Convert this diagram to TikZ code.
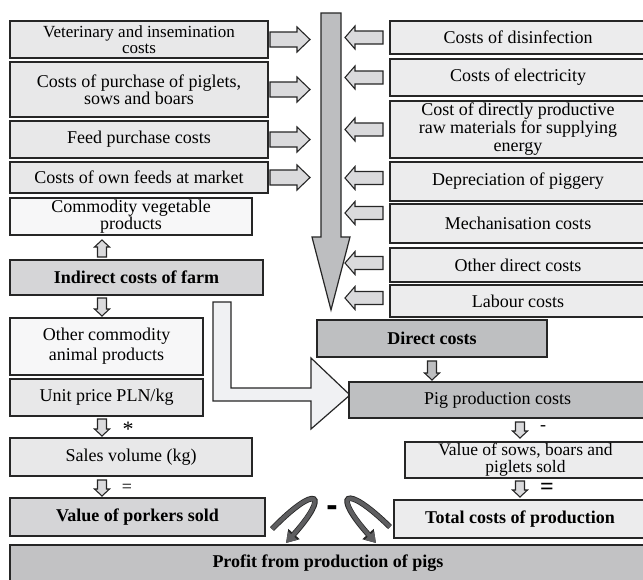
\documentclass[tikz,border=0pt]{standalone}
\usepackage{fontspec}
\setmainfont{Liberation Serif}
\setsansfont{Liberation Sans}
\usetikzlibrary{arrows.meta}
\definecolor{boxA}{HTML}{E8E8E9}
\definecolor{boxR}{HTML}{ECECED}
\definecolor{boxW}{HTML}{F7F7F8}
\definecolor{boxM}{HTML}{D5D5D7}
\definecolor{boxD}{HTML}{BEBFC1}
\definecolor{boxP}{HTML}{C2C2C4}
\definecolor{arrF}{HTML}{DADADC}
\definecolor{bigF}{HTML}{BDBEC0}
\definecolor{lF}{HTML}{F0F1F3}
\definecolor{curv}{HTML}{5E5E60}
\tikzset{
  box/.style={draw=black!85, line width=1.3pt, inner sep=0pt, align=center,
    font=\fontsize{18}{17}\selectfont},
  bbox/.style={box, font=\fontsize{18}{17}\selectfont\bfseries},
  barrow/.style={draw=black!85, line width=1.1pt, fill=arrF, line join=miter},
  curarrow/.style={line width=4pt, draw=curv, -{Triangle[width=12pt,length=10pt]},
    preaction={draw=black!85, line width=5.6pt, -{Triangle[width=14.5pt,length=12pt]}}},
  sign/.style={inner sep=0pt, font=\fontsize{18}{18}\selectfont}
}
% box: [style]{name}{x1}{y1}{x2}{y2}{fill}{text}
\newcommand\bx[8][box]{\node[#1, fill=#7, minimum width={#5-#3}, minimum height={#6-#4}] (#2) at ({(#3+#5)/2},{(#4+#6)/2}) {#8};}
% right-pointing arrow: {x tail}{x tip}{y}
\newcommand\rarr[3]{\draw[barrow] (#1,#3-7.5) -- (#2-13,#3-7.5) -- (#2-13,#3-12.5) -- (#2,#3) -- (#2-13,#3+12.5) -- (#2-13,#3+7.5) -- (#1,#3+7.5) -- cycle;}
% left-pointing arrow: {x tip}{x tail}{y}
\newcommand\larr[3]{\draw[barrow] (#2,#3-6.5) -- (#1+10,#3-6.5) -- (#1+10,#3-11.5) -- (#1,#3) -- (#1+10,#3+11.5) -- (#1+10,#3+6.5) -- (#2,#3+6.5) -- cycle;}
% down arrow: {x}{y tail}{y tip}
\newcommand\darr[3]{\draw[barrow] (#1-4.5,#2) -- (#1+4.5,#2) -- (#1+4.5,#3-7) -- (#1+7.5,#3-7) -- (#1,#3) -- (#1-7.5,#3-7) -- (#1-4.5,#3-7) -- cycle;}
% up arrow: {x}{y tip}{y tail}
\newcommand\uarr[3]{\draw[barrow] (#1-4.5,#3) -- (#1+4.5,#3) -- (#1+4.5,#2+7) -- (#1+7.5,#2+7) -- (#1,#2) -- (#1-7.5,#2+7) -- (#1-4.5,#2+7) -- cycle;}
\begin{document}
\begin{tikzpicture}[x=1pt, y=-1pt]
\useasboundingbox[fill=white] (0,0) rectangle (643,579);

% big vertical arrow
\draw[draw=black!85, line width=1.2pt, fill=bigF]
  (321,13) -- (341,13) -- (341,237) -- (350,237) -- (331,310) -- (312,237) -- (321,237) -- cycle;

% L-shaped arrow
\draw[draw=black!85, line width=1.2pt, fill=lF]
  (213,302) -- (231,302) -- (231,388) -- (311,388) -- (311,358) -- (350,395) -- (311,429) -- (311,401) -- (213,401) -- cycle;

% left column
\bx[box, font=\fontsize{17}{16.5}\selectfont]{vet}{10}{21}{268}{58}{boxA}{Veterinary and insemination\\costs}
\bx{pur}{10}{62}{268}{117}{boxA}{Costs of purchase of piglets,\\sows and boars}
\bx{feed}{10}{121}{268}{158}{boxA}{Feed purchase costs}
\bx{own}{10}{162}{268}{193}{boxA}{Costs of own feeds at market}
\bx{veg}{10}{198}{252}{235}{boxW}{Commodity vegetable\\products}
\bx[bbox]{ind}{10}{260}{263}{295}{boxM}{Indirect costs of farm}
\bx[box, font=\fontsize{18}{20}\selectfont]{anim}{10}{318}{203}{375}{boxW}{Other commodity\\animal products}
\bx{unit}{10}{379}{203}{416}{boxA}{Unit price PLN/kg}
\bx{sales}{10}{438}{252}{476}{boxA}{Sales volume (kg)}
\bx[bbox]{pork}{10}{498}{265}{536}{boxM}{Value of porkers sold}

% right column
\bx{dis}{390}{21}{646}{54}{boxR}{Costs of disinfection}
\bx{ele}{390}{59}{646}{96}{boxR}{Costs of electricity}
\bx[box, font=\fontsize{18}{18}\selectfont]{raw}{390}{101}{646}{158}{boxR}{Cost of directly productive\\raw materials for supplying\\energy}
\bx{dep}{390}{162}{646}{201}{boxR}{Depreciation of piggery}
\bx{mech}{390}{204}{646}{243}{boxR}{Mechanisation costs}
\bx{oth}{390}{248}{646}{282}{boxR}{Other direct costs}
\bx{lab}{390}{285}{646}{317}{boxR}{Labour costs}
\bx[bbox]{dir}{317}{320}{547}{357}{boxD}{Direct costs}
\bx{pig}{349}{382}{646}{418}{boxD}{Pig production costs}
\bx[box, font=\fontsize{17.5}{17}\selectfont]{sows}{405}{442}{646}{478}{boxR}{Value of sows, boars and\\piglets sold}
\bx[bbox]{tot}{394}{500}{646}{538}{boxR}{Total costs of production}
\bx[bbox]{prof}{10}{545}{646}{581}{boxP}{Profit from production of pigs}

% arrows from left boxes
\rarr{270}{310}{39.5}
\rarr{270}{310}{89.5}
\rarr{270}{310}{139.5}
\rarr{270}{310}{177.5}

% arrows from right boxes
\larr{345}{383}{37.5}
\larr{345}{383}{77.5}
\larr{345}{383}{129.5}
\larr{345}{383}{178}
\larr{345}{383}{213}
\larr{345}{383}{263}
\larr{345}{383}{298}

% small vertical arrows left
\uarr{102}{240}{257}
\darr{102}{298}{316}
\darr{102}{419}{436}
\darr{102}{480}{496}
\node[sign, font=\fontsize{22}{22}\selectfont] (star) at (128,429) {*};
\node[sign] (eqL) at (127,488) {=};

% small vertical arrows right
\begin{scope}[barrow/.append style={fill=bigF}]
\darr{432}{361}{380}
\end{scope}
\darr{520}{422}{438}
\darr{520}{481}{497}
\node[sign] (minR) at (543,428) {-};
\node[sign, font=\fontsize{24}{24}\selectfont\bfseries] (eqR) at (547,489) {=};

% curved arrows to profit
\coordinate (c1s) at (272,529);
\coordinate (c1e) at (286,543);
\coordinate (c2s) at (390,527);
\coordinate (c2e) at (376,543);
\draw[curarrow] (c1s) .. controls (318,482) and (330,494) .. (c1e);
\draw[curarrow] (c2s) .. controls (344,482) and (332,494) .. (c2e);
\node[sign, font=\fontsize{34}{34}\selectfont\sffamily\bfseries] (minC) at (332,511) {-};
\end{tikzpicture}
\end{document}
